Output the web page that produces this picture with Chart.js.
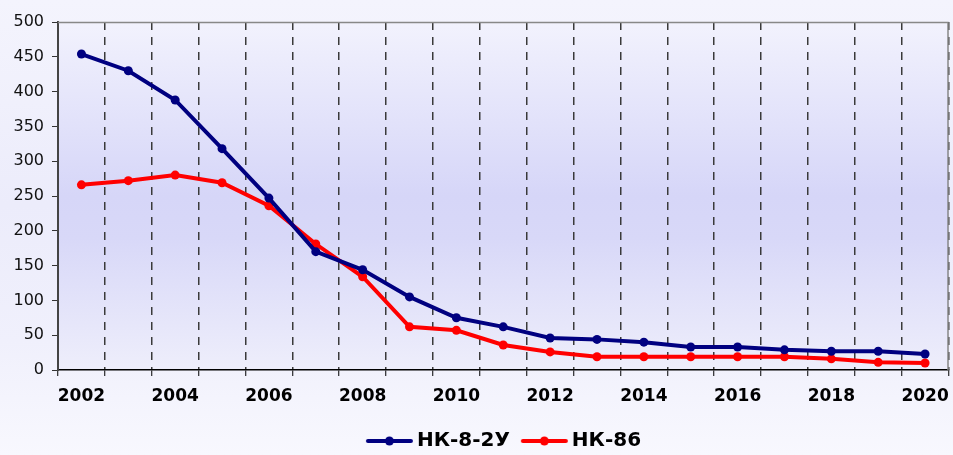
<!DOCTYPE html>
<html>
<head>
<meta charset="utf-8">
<script src="https://cdn.jsdelivr.net/npm/chart.js@4.4.1/dist/chart.umd.min.js"></script>
<style>
  html, body { margin: 0; padding: 0; background: #f6f6fd; }
  #wrap { width: 953px; height: 455px; position: relative;
    background: linear-gradient(to bottom, #f4f4fd 0%, #ececfb 45%, #f0f0fc 75%, #f8f8fe 100%); }
</style>
</head>
<body>
<div id="wrap"><canvas id="c" width="953" height="455"></canvas></div>
<script>
const years = ['2002','2003','2004','2005','2006','2007','2008','2009','2010','2011','2012','2013','2014','2015','2016','2017','2018','2019','2020'];
const nk82u = [454, 430, 388, 318, 247, 170, 144, 105, 75, 62, 46, 44, 40, 33, 33, 29, 27, 27, 23];
const nk86  = [266, 272, 280, 269, 236, 181, 134, 62, 57, 36, 26, 19, 19, 19, 19, 19, 16, 11, 10];
const seriesNames = ['НК-8-2У', 'НК-86'];
const seriesColors = ['#000080', '#ff0000'];
const yTicks = [0, 50, 100, 150, 200, 250, 300, 350, 400, 450, 500];

function legendIcon(color) {
  const cv = document.createElement('canvas');
  cv.width = 64; cv.height = 12;
  const g = cv.getContext('2d');
  g.strokeStyle = color; g.lineWidth = 4; g.lineCap = 'round';
  g.beginPath(); g.moveTo(18, 6); g.lineTo(61, 6); g.stroke();
  g.fillStyle = color;
  g.beginPath(); g.arc(39.5, 6, 4.5, 0, Math.PI * 2); g.fill();
  return cv;
}
const icons = seriesColors.map(legendIcon);

const plotBg = {
  id: 'plotBg',
  afterLayout(chart) {
    if (chart.legend) { chart.legend.left += 48; }
  },
  beforeDraw(chart) {
    const {ctx, chartArea: a} = chart;
    const gr = ctx.createLinearGradient(0, a.top, 0, a.bottom);
    gr.addColorStop(0, '#f2f2fd');
    gr.addColorStop(0.5, '#d6d6f8');
    gr.addColorStop(0.62, '#d8d8f8');
    gr.addColorStop(1, '#eeeefb');
    ctx.save();
    ctx.fillStyle = gr;
    ctx.fillRect(a.left, a.top, a.right - a.left, a.bottom - a.top);
    ctx.restore();
  },
  afterDatasetsDraw(chart) {
    const {ctx, chartArea: a} = chart;
    ctx.save();
    ctx.strokeStyle = '#888';
    ctx.lineWidth = 1.5;
    ctx.beginPath();
    ctx.moveTo(a.left, a.top + 0.5);
    ctx.lineTo(a.right - 0.5, a.top + 0.5);
    ctx.lineTo(a.right - 0.5, a.bottom);
    ctx.stroke();
    ctx.restore();
  }
};

new Chart(document.getElementById('c'), {
  type: 'line',
  data: {
    labels: years,
    datasets: [
      { label: seriesNames[0], data: nk82u, borderColor: seriesColors[0], backgroundColor: seriesColors[0],
        borderWidth: 4, pointRadius: 4.5, pointHoverRadius: 4.5, pointBorderWidth: 0, tension: 0 },
      { label: seriesNames[1], data: nk86, borderColor: seriesColors[1], backgroundColor: seriesColors[1],
        borderWidth: 4, pointRadius: 4.5, pointHoverRadius: 4.5, pointBorderWidth: 0, tension: 0 }
    ]
  },
  options: {
    responsive: false,
    animation: false,
    layout: { padding: { top: 22, right: 3, left: 0, bottom: -6 } },
    plugins: {
      tooltip: { enabled: false },
      legend: {
        position: 'bottom',
        labels: {
          usePointStyle: true,
          pointStyleWidth: 50,
          boxHeight: 12,
          padding: 2,
          color: '#000',
          font: { family: 'DejaVu Sans', size: 20, weight: 'bold' },
          generateLabels(chart) {
            return chart.data.datasets.map((ds, i) => ({
              text: ds.label, pointStyle: icons[i], fillStyle: ds.borderColor,
              strokeStyle: ds.borderColor, lineWidth: 0, datasetIndex: i, hidden: false
            }));
          }
        }
      }
    },
    scales: {
      x: {
        type: 'category',
        offset: true,
        grid: {
          offset: true,
          display: true,
          drawOnChartArea: true,
          color: (ctx) => (ctx.index === 0 || ctx.index === years.length) ? 'rgba(0,0,0,0)' : '#3a3a3a',
          lineWidth: 1.5,
          tickColor: '#000',
          tickLength: 6,
          tickBorderDash: [],
          tickWidth: 1
        },
        border: { display: true, color: '#000', width: 1.5, dash: [8, 7] },
        ticks: {
          autoSkip: false,
          maxRotation: 0,
          color: '#000',
          padding: 10,
          font: { family: 'DejaVu Sans', size: 17, weight: 'bold' },
          callback: (v, i) => (i % 2 === 0 ? years[i] : '')
        },
        afterFit(scale) { scale.height = 59; scale.paddingRight = 0; scale.paddingLeft = 0; }
      },
      y: {
        min: 0, max: 500,
        afterBuildTicks(scale) { scale.ticks = yTicks.map(v => ({ value: v })); },
        grid: { display: true, drawOnChartArea: false, tickLength: 6, tickColor: '#333', tickWidth: 1 },
        border: { display: true, color: '#444', width: 2 },
        ticks: {
          color: '#111',
          padding: 8,
          font: { family: 'DejaVu Sans', size: 16 }
        },
        afterFit(scale) { scale.width = 58; }
      }
    }
  },
  plugins: [plotBg]
});
</script>
</body>
</html>
